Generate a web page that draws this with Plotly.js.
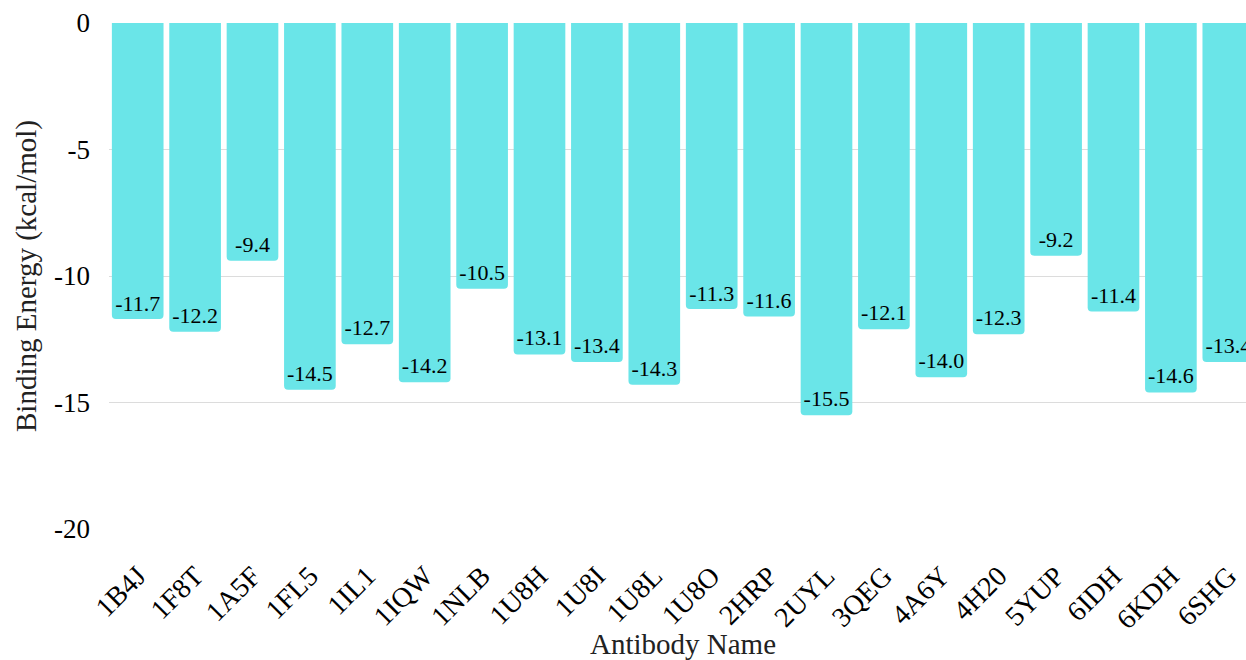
<!DOCTYPE html>
<html>
<head>
<meta charset="utf-8">
<script src="https://cdn.plot.ly/plotly-3.0.1.min.js"></script>
<style>
  html, body { margin: 0; padding: 0; overflow: hidden; background: #fff; }
  #chart { width: 1270px; height: 660px; }
</style>
</head>
<body>
<div id="chart"></div>
<script>
// Antibody identifiers (PDB codes)
const antibodies = ['1B4J', '1F8T', '1A5F', '1FL5', '1IL1', '1IQW', '1NLB', '1U8H', '1U8I', '1U8L',
                    '1U8O', '2HRP', '2UYL', '3QEG', '4A6Y', '4H20', '5YUP', '6IDH', '6KDH', '6SHG'];
// Binding energy for each antibody, kcal/mol
const bindingEnergy = [-11.7, -12.2, -9.4, -14.5, -12.7, -14.2, -10.5, -13.1, -13.4, -14.3,
                       -11.3, -11.6, -15.5, -12.1, -14.0, -12.3, -9.2, -11.4, -14.6, -13.4];
const yTicks = [0, -5, -10, -15, -20];

const serif = '"Liberation Serif", "Times New Roman", "DejaVu Serif", serif';

const trace = {
  type: 'bar',
  x: antibodies,
  y: bindingEnergy,
  marker: { color: '#6ae5e8', cornerradius: 4 },
  text: bindingEnergy,
  texttemplate: '%{y:.1f}',
  textposition: 'inside',
  insidetextanchor: 'end',
  textangle: 0,
  insidetextfont: { family: serif, size: 22, color: '#000' },
  hoverinfo: 'x+y'
};

const layout = {
  width: 1270,
  height: 660,
  margin: { l: 109, r: 13, t: 23, b: 131 },
  paper_bgcolor: '#fff',
  plot_bgcolor: '#fff',
  bargap: 0.1,
  showlegend: false,
  uniformtext: { mode: 'show', minsize: 22 },
  font: { family: serif, color: '#000' },
  xaxis: {
    type: 'category',
    tickangle: -45,
    tickfont: { family: serif, size: 28, color: '#000' },
    showgrid: false,
    showline: false,
    ticks: '',
    ticklabelstandoff: 24,
    title: { text: 'Antibody Name', font: { family: serif, size: 29, color: '#222' }, standoff: 4 }
  },
  yaxis: {
    range: [-20, 0],
    tickvals: yTicks,
    ticktext: yTicks.map(String),
    tickfont: { family: serif, size: 27, color: '#000' },
    showgrid: true,
    gridcolor: '#dcdcdc',
    gridwidth: 1,
    zeroline: false,
    showline: false,
    ticks: '',
    ticklabelstandoff: 18,
    title: { text: 'Binding Energy (kcal/mol)', font: { family: serif, size: 29, color: '#222' }, standoff: 8 }
  }
};

Plotly.newPlot('chart', [trace], layout, { displayModeBar: false, staticPlot: true });
</script>
</body>
</html>
